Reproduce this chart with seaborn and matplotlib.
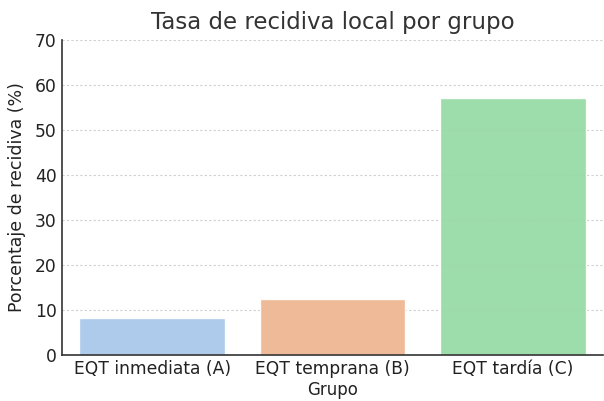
import pandas as pd
import matplotlib
matplotlib.use("Agg")
import matplotlib.pyplot as plt
import seaborn as sns

# Data
grupos = ['EQT inmediata (A)', 'EQT temprana (B)', 'EQT tardía (C)']
recidiva = [8.3, 12.5, 57.1]

df = pd.DataFrame({'Grupo': grupos, 'Recidiva': recidiva})

sns.set_style("white")
plt.rcParams['font.family'] = ['DejaVu Sans']

fig, ax = plt.subplots(figsize=(6.04, 4.01), dpi=100)
sns.barplot(x='Grupo', y='Recidiva', data=df, hue='Grupo', legend=False,
            palette='pastel', alpha=0.95, width=0.81, ax=ax)

ax.set_ylim(0, 70)
ax.set_title('Tasa de recidiva local por grupo', fontsize=16.5, color='#333333', pad=8)
ax.set_xlabel('Grupo', fontsize=12, color='#222222', labelpad=2)
ax.set_ylabel('Porcentaje de recidiva (%)', fontsize=12.5, color='#222222', labelpad=6)
ax.tick_params(axis='both', labelsize=12.3, labelcolor='#222222')
ax.tick_params(axis='x', direction='in', length=4, width=1, color='#333333', pad=4)
ax.tick_params(axis='y', length=0, pad=4)
ax.yaxis.grid(True, linestyle=(0, (2, 2)), color='#d0d0d0', linewidth=0.8)
ax.set_axisbelow(True)
sns.despine(ax=ax)
for s in ['left', 'bottom']:
    ax.spines[s].set_color('#333333')
    ax.spines[s].set_linewidth(1.2)

fig.subplots_adjust(left=0.103, right=0.998, top=0.90, bottom=0.115)
fig.savefig('out.png', dpi=100)
